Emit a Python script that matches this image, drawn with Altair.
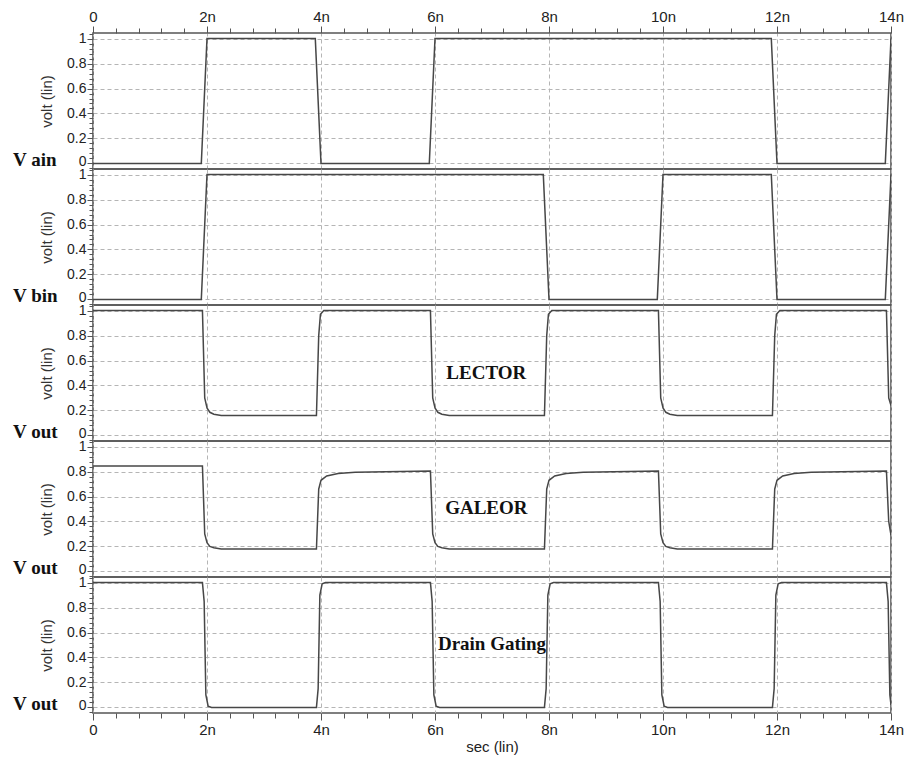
import altair as alt
import pandas as pd

# ---------------- data (time in ns, voltage in V) ----------------
panel_names = ["V ain", "V bin", "V out", "V out", "V out"]
panel_notes = ["", "", "LECTOR", "GALEOR", "Drain Gating"]
note_t = [0, 0, 6.9, 6.9, 7.0]
note_v = [0, 0, 0.50, 0.51, 0.51]

t_ain = [0, 1.9, 2.0, 3.9, 4.0, 5.9, 6.0, 11.9, 12.0, 13.9, 14.0]
v_ain = [0, 0, 1, 1, 0, 0, 1, 1, 0, 0, 1]

t_bin = [0, 1.9, 2.0, 7.9, 8.0, 9.9, 10.0, 11.9, 12.0, 13.9, 14.0]
v_bin = [0, 0, 1, 1, 0, 0, 1, 1, 0, 0, 1]

t_lector = [0, 1.92, 1.96, 2.0, 2.05, 2.12, 2.25, 3.92, 3.96, 3.99, 4.05,
            5.92, 5.96, 6.0, 6.05, 6.12, 6.25, 7.92, 7.96, 7.99, 8.05,
            9.92, 9.96, 10.0, 10.05, 10.12, 10.25, 11.92, 11.96, 11.99, 12.05,
            13.92, 13.96, 14.0]
v_lector = [1.0, 1.0, 0.3, 0.22, 0.185, 0.17, 0.16, 0.16, 0.8, 0.97, 1.0,
            1.0, 0.3, 0.22, 0.185, 0.17, 0.16, 0.16, 0.8, 0.97, 1.0,
            1.0, 0.3, 0.22, 0.185, 0.17, 0.16, 0.16, 0.8, 0.97, 1.0,
            1.0, 0.3, 0.24]

t_galeor = [0, 1.92, 1.96, 2.0, 2.05, 2.12, 2.25, 3.92, 3.96, 4.0, 4.1, 4.3, 4.6,
            5.92, 5.96, 6.0, 6.05, 6.12, 6.25, 7.92, 7.96, 8.0, 8.1, 8.3, 8.6,
            9.92, 9.96, 10.0, 10.05, 10.12, 10.25, 11.92, 11.96, 12.0, 12.1, 12.3, 12.6,
            13.92, 13.96, 14.0]
v_galeor = [0.845, 0.845, 0.3, 0.23, 0.2, 0.19, 0.18, 0.18, 0.66, 0.73, 0.765, 0.785, 0.795,
            0.805, 0.3, 0.23, 0.2, 0.19, 0.18, 0.18, 0.66, 0.73, 0.765, 0.785, 0.795,
            0.805, 0.3, 0.23, 0.2, 0.19, 0.18, 0.18, 0.66, 0.73, 0.765, 0.785, 0.795,
            0.805, 0.4, 0.29]

t_drain = [0, 1.92, 1.95, 1.98, 2.02, 2.08, 3.92, 3.95, 3.98, 4.02, 4.08,
           5.92, 5.95, 5.98, 6.02, 6.08, 7.92, 7.95, 7.98, 8.02, 8.08,
           9.92, 9.95, 9.98, 10.02, 10.08, 11.92, 11.95, 11.98, 12.02, 12.08,
           13.92, 13.95, 13.98, 14.0]
v_drain = [1.0, 1.0, 0.85, 0.1, 0.01, 0.0, 0.0, 0.15, 0.9, 0.99, 1.0,
           1.0, 0.85, 0.1, 0.01, 0.0, 0.0, 0.15, 0.9, 0.99, 1.0,
           1.0, 0.85, 0.1, 0.01, 0.0, 0.0, 0.15, 0.9, 0.99, 1.0,
           1.0, 0.85, 0.1, 0.02]

series_t = [t_ain, t_bin, t_lector, t_galeor, t_drain]
series_v = [v_ain, v_bin, v_lector, v_galeor, v_drain]

# axis tick positions
x_ticks = [round(i * 0.4, 2) for i in range(36)]          # 0 .. 14n, minor every 0.4n
y_ticks = [round(-0.04 + i * 0.04, 2) for i in range(28)]  # -0.04 .. 1.04

X_MAJOR = "abs(datum.value/2 - round(datum.value/2)) < 0.001"
Y_MAJOR = "(abs(datum.value*5 - round(datum.value*5)) < 0.001 && datum.value > -0.01 && datum.value < 1.01)"

FONT = "Liberation Sans"
SERIF = "Liberation Serif"
W, H = 798, 136
GRID = "#b5b5b5"


def x_axis(kind):
    common = dict(
        values=x_ticks,
        grid=True,
        gridColor=GRID,
        gridDash=[4, 3],
        gridWidth=1,
        gridOpacity={"condition": {"test": X_MAJOR, "value": 1}, "value": 0},
        domain=False,
        labelOverlap=False,
        labelFlush=False,
    )
    if kind == "none":
        return alt.Axis(labels=False, ticks=False, title=None, **common)
    return alt.Axis(
        orient=kind,
        labelExpr=X_MAJOR + " ? (datum.value == 0 ? '0' : round(datum.value) + 'n') : ''",
        tickSize={"condition": {"test": X_MAJOR, "value": 7}, "value": 5},
        tickColor="#555",
        labelFont=FONT,
        labelFontSize=15,
        labelColor="#222",
        labelPadding=2,
        title="sec (lin)" if kind == "bottom" else None,
        titleFont=FONT,
        titleFontSize=15,
        titleFontWeight="normal",
        titleColor="#222",
        titlePadding=2,
        **common,
    )


def y_axis():
    return alt.Axis(
        values=y_ticks,
        grid=True,
        gridColor=GRID,
        gridDash=[4, 3],
        gridWidth=1,
        gridOpacity={"condition": {"test": Y_MAJOR, "value": 1}, "value": 0},
        domain=False,
        labelOverlap=False,
        labelFlush=False,
        labelExpr=Y_MAJOR + " ? format(datum.value, '.1~f') : ''",
        labelOffset={"condition": {"test": "datum.value < 0.01", "value": -2}, "value": 0},
        tickSize={"condition": {"test": Y_MAJOR, "value": 6}, "value": 4},
        tickColor="#555",
        labelFont=FONT,
        labelFontSize=14,
        labelColor="#222",
        labelPadding=1,
        title="volt (lin)",
        titleFont=FONT,
        titleFontSize=15,
        titleFontWeight="normal",
        titleColor="#333",
        titlePadding=12,
    )


xscale = alt.Scale(domain=[0, 14], nice=False, zero=False)
yscale = alt.Scale(domain=[-0.045, 1.045], nice=False, zero=False)

panels = []
for i in range(5):
    kind = "top" if i == 0 else ("bottom" if i == 4 else "none")
    xa = x_axis(kind)
    ya = y_axis()
    df = pd.DataFrame({"t": series_t[i], "v": series_v[i]})
    line = alt.Chart(df).mark_line(color="#474747", strokeWidth=1.5, clip=True).encode(
        x=alt.X("t:Q", scale=xscale, axis=xa),
        y=alt.Y("v:Q", scale=yscale, axis=ya),
    )
    name_df = pd.DataFrame({"t": [0], "v": [0], "label": [panel_names[i]]})
    name = alt.Chart(name_df).mark_text(
        align="left", baseline="middle", font=SERIF, fontWeight="bold",
        fontSize=19, color="#111", dy=-3,
    ).encode(
        x=alt.value(-80),
        y=alt.Y("v:Q", scale=yscale, axis=ya),
        text="label:N",
    )
    layers = [line, name]
    if panel_notes[i]:
        note_df = pd.DataFrame({"t": [note_t[i]], "v": [note_v[i]], "label": [panel_notes[i]]})
        note = alt.Chart(note_df).mark_text(
            align="center", baseline="middle", font=SERIF, fontWeight="bold",
            fontSize=19, color="#111",
        ).encode(
            x=alt.X("t:Q", scale=xscale, axis=xa),
            y=alt.Y("v:Q", scale=yscale, axis=ya),
            text="label:N",
        )
        layers.append(note)
    panels.append(alt.layer(*layers).properties(width=W, height=H))

chart = alt.vconcat(*panels, spacing=0, bounds="flush").properties(
    padding={"left": 12, "top": 8, "right": 2, "bottom": 2},
    background="white",
).configure_view(stroke="#555", strokeWidth=1.6)

chart.save("out.html", embed_options={"renderer": "svg", "actions": False})
